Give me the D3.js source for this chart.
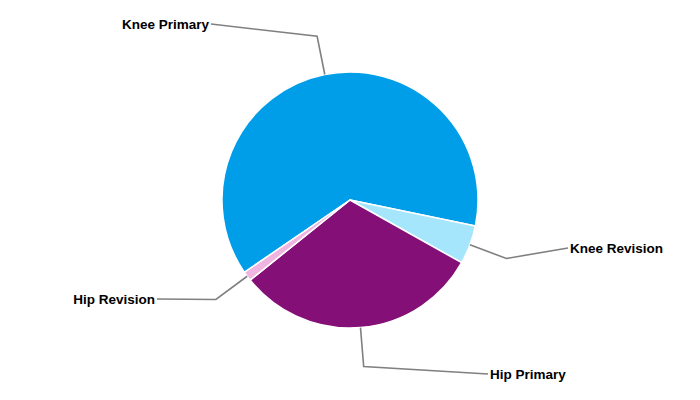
<!DOCTYPE html>
<html><head><meta charset="utf-8">
<script src="https://cdn.jsdelivr.net/npm/d3@7"></script>
<style>body{margin:0;background:#fff}svg{display:block}</style>
</head><body>
<svg id="chart" width="700" height="400"></svg>
<script>
const categories = ["Knee Primary", "Knee Revision", "Hip Primary", "Hip Revision"];
const values = [62.8, 4.9, 31.1, 1.2];
const colors = ["#009EE8", "#A6E6FC", "#841077", "#F0B4E0"];

const W = 700, H = 400, cx = 350, cy = 200, R = 128, Rel = 167;
const startDeg = 235.6;
// label text anchor positions (layout)
const labelPos = {
  "Knee Primary": {x: 209, y: 24, anchor: "end"},
  "Knee Revision": {x: 570, y: 248, anchor: "start"},
  "Hip Primary": {x: 490, y: 374, anchor: "start"},
  "Hip Revision": {x: 155, y: 299, anchor: "end"}
};

const data = categories.map((c, i) => ({name: c, value: values[i], color: colors[i]}));
const svg = d3.select("#chart");
const g = svg.append("g").attr("transform", `translate(${cx},${cy})`);
const st = startDeg * Math.PI / 180;
const pie = d3.pie().value(d => d.value).sort(null).startAngle(st).endAngle(st + 2 * Math.PI);
const arcs = pie(data);
const arc = d3.arc().innerRadius(0).outerRadius(R);

g.selectAll("path.slice").data(arcs).join("path")
  .attr("class", "slice")
  .attr("d", arc)
  .attr("fill", d => d.data.color)
  .attr("stroke", "#fff").attr("stroke-width", 1.5).attr("stroke-linejoin", "round");

const pt = (a, r) => [r * Math.sin(a), -r * Math.cos(a)];
g.selectAll("polyline.lead").data(arcs).join("polyline")
  .attr("class", "lead")
  .attr("fill", "none").attr("stroke", "#808080").attr("stroke-width", 1.6)
  .attr("points", d => {
    const m = (d.startAngle + d.endAngle) / 2;
    const p1 = pt(m, R), p2 = pt(m, Rel);
    const lp = labelPos[d.data.name];
    return [p1, p2, [lp.x - cx + (lp.anchor === "end" ? 2 : -2), lp.y - cy]].map(p => p.join(",")).join(" ");
  });

svg.selectAll("text.lbl").data(arcs).join("text")
  .attr("class", "lbl")
  .attr("x", d => labelPos[d.data.name].x)
  .attr("y", d => labelPos[d.data.name].y)
  .attr("dy", "0.35em")
  .attr("text-anchor", d => labelPos[d.data.name].anchor)
  .attr("font-family", "'Liberation Sans', Arial, sans-serif")
  .attr("font-weight", "bold")
  .attr("font-size", 13.5)
  .attr("fill", "#000")
  .text(d => d.data.name);
</script>
</body></html>
